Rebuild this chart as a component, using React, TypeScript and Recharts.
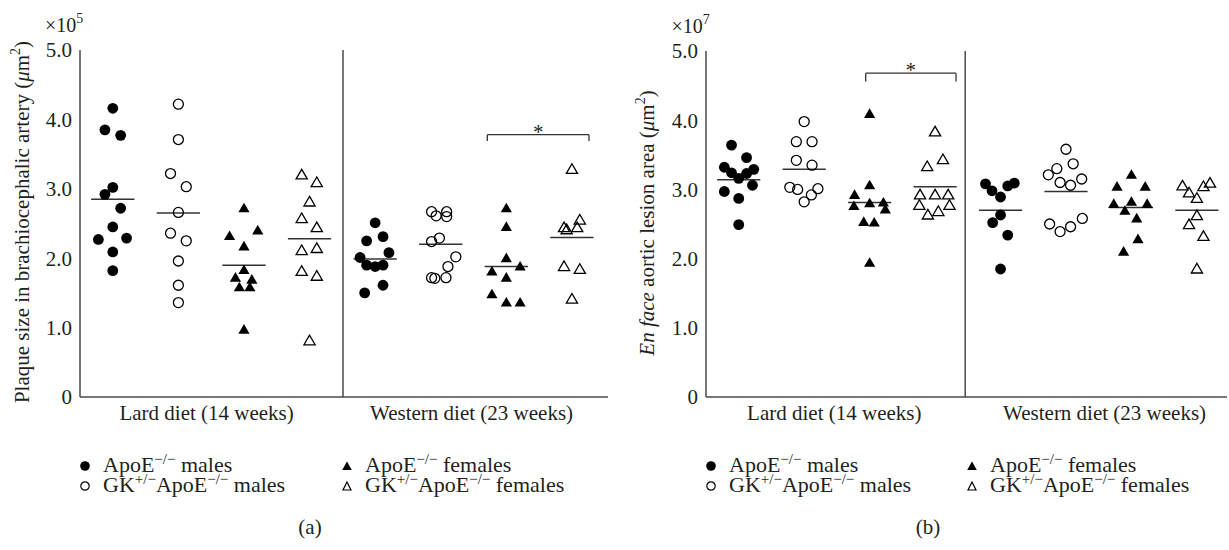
import React from 'react';
import { ScatterChart, Scatter, XAxis, YAxis, ReferenceLine } from 'recharts';

const FONT = '"Liberation Serif", "Times New Roman", serif';
const TEXT = '#231f20';
const AXIS = '#4a4a4a';

const dietLabels = ['Lard diet (14 weeks)', 'Western diet (23 weeks)'];
const yTicks = [0, 1, 2, 3, 4, 5];
const lardSlots = [1, 2, 3, 4];
const westernSlots = [5, 6, 7, 8];

// ---- Panel (a): plaque size in brachiocephalic artery (x10^5 um^2) ----
// each entry: [horizontal jitter, value]
const aApoEMalesLard = [[0, 4.16], [-0.12, 3.85], [0.12, 3.77], [0, 3.02], [-0.12, 2.92], [0.12, 2.72], [0, 2.45], [-0.22, 2.27], [0.21, 2.29], [0, 2.09], [0, 1.82]];
const aGKMalesLard = [[0, 4.22], [0, 3.71], [-0.12, 3.22], [0.12, 3.03], [0, 2.66], [-0.12, 2.36], [0.12, 2.25], [0, 1.96], [0, 1.61], [0, 1.36]];
const aApoEFemalesLard = [[0, 2.72], [-0.22, 2.32], [0.21, 2.4], [0, 2.17], [0, 1.83], [-0.13, 1.72], [0.12, 1.69], [-0.07, 1.58], [0.09, 1.58], [0, 0.97]];
const aGKFemalesLard = [[-0.12, 3.2], [0.11, 3.09], [0, 2.81], [-0.12, 2.57], [0.11, 2.44], [-0.12, 2.11], [0.11, 2.14], [-0.12, 1.81], [0.11, 1.74], [0, 0.81]];
const aApoEMalesWestern = [[0, 2.51], [-0.13, 2.25], [0.12, 2.31], [-0.23, 2.01], [0.21, 2.08], [-0.13, 1.9], [0, 1.88], [0.12, 1.9], [-0.16, 1.5], [0.12, 1.61]];
const aGKMalesWestern = [[-0.14, 2.67], [0.09, 2.67], [-0.07, 2.61], [0.09, 2.6], [-0.14, 2.24], [-0.02, 2.29], [0.23, 2.02], [0.11, 1.88], [-0.14, 1.72], [-0.09, 1.71], [0.08, 1.72]];
const aApoEFemalesWestern = [[0, 2.72], [0, 2.45], [0, 2.0], [-0.22, 1.81], [0.21, 1.88], [0, 1.72], [-0.22, 1.48], [0, 1.36], [0.21, 1.36]];
const aGKFemalesWestern = [[0, 3.28], [0.12, 2.55], [-0.12, 2.44], [-0.08, 2.41], [0.08, 2.44], [-0.12, 1.88], [0.12, 1.84], [0, 1.41]];
const aMeansLard = [2.85, 2.65, 1.9, 2.28];
const aMeansWestern = [1.99, 2.2, 1.88, 2.3];
const aXDomain = [0.5, 8.55];
const aDivider = 4.51;
const aDietLabelX = [2.43, 6.47];
const aBracketX = [6.71, 8.26];
const aBracketY = [3.78, 3.69];

// ---- Panel (b): en face aortic lesion area (x10^7 um^2) ----
const bApoEMalesLard = [[-0.11, 3.64], [0.12, 3.46], [-0.22, 3.32], [-0.11, 3.24], [0, 3.16], [0.12, 3.23], [0.23, 3.29], [0.21, 3.06], [-0.22, 2.97], [0, 2.87], [0, 2.49]];
const bGKMalesLard = [[0, 3.98], [-0.12, 3.69], [0.12, 3.69], [-0.12, 3.42], [0.12, 3.35], [-0.22, 3.03], [-0.1, 3.0], [0.21, 3.01], [0.11, 2.92], [0, 2.82]];
const bApoEFemalesLard = [[0, 4.09], [0, 3.06], [-0.23, 2.92], [-0.24, 2.76], [0, 2.8], [0.21, 2.81], [0.24, 2.71], [-0.09, 2.53], [0.07, 2.52], [0, 1.94]];
const bGKFemalesLard = [[0, 3.83], [0.12, 3.43], [-0.12, 3.33], [-0.23, 2.92], [0, 2.92], [0.2, 2.92], [-0.24, 2.77], [0.22, 2.77], [-0.11, 2.63], [0.05, 2.68]];
const bApoEMalesWestern = [[-0.23, 3.08], [-0.13, 2.98], [0, 2.89], [0.11, 3.05], [0.21, 3.09], [0, 2.63], [-0.12, 2.52], [0.11, 2.34], [0, 1.85]];
const bGKMalesWestern = [[0, 3.58], [0.11, 3.37], [-0.14, 3.3], [-0.27, 3.21], [-0.09, 3.1], [0.07, 3.06], [0.24, 3.15], [-0.25, 2.5], [-0.09, 2.39], [0.07, 2.46], [0.25, 2.58]];
const bApoEFemalesWestern = [[0, 3.21], [-0.22, 3.04], [0.21, 3.04], [-0.27, 2.79], [0, 2.82], [0.24, 2.79], [-0.1, 2.69], [0.08, 2.58], [0.1, 2.28], [-0.12, 2.1]];
const bGKFemalesWestern = [[-0.22, 3.05], [0.2, 3.09], [0.1, 3.04], [-0.12, 2.95], [0, 2.87], [0, 2.62], [-0.12, 2.49], [0.1, 2.32], [0, 1.85]];
const bMeansLard = [3.14, 3.29, 2.81, 3.04];
const bMeansWestern = [2.7, 2.97, 2.74, 2.7];
const bXDomain = [0.5, 8.46];
const bDivider = 4.46;
const bDietLabelX = [2.46, 6.59];
const bBracketX = [2.94, 4.32];
const bBracketY = [4.68, 4.56];

const MEAN_HALF = 0.33;
const markerKinds = ['dot', 'circle', 'tri', 'opentri'];

function buildSeries(lard: number[][][], western: number[][][]) {
  return markerKinds.map((kind, g) => ({
    kind,
    data: [
      ...lard[g].map(([j, v]) => ({ x: lardSlots[g] + j, y: v })),
      ...western[g].map(([j, v]) => ({ x: westernSlots[g] + j, y: v })),
    ],
  }));
}

function MarkerShape(kind: string) {
  return (props: any) => {
    const { cx, cy } = props;
    if (cx == null || cy == null) return <g />;
    if (kind === 'dot') return <circle cx={cx} cy={cy} r={5.4} fill="#000" />;
    if (kind === 'circle') return <circle cx={cx} cy={cy} r={5} fill="none" stroke="#000" strokeWidth={1.3} />;
    const pts = `${cx},${cy - 5.6} ${cx - 5.6},${cy + 4} ${cx + 5.6},${cy + 4}`;
    if (kind === 'tri') return <polygon points={pts} fill="#000" />;
    return <polygon points={pts} fill="none" stroke="#000" strokeWidth={1.3} strokeLinejoin="miter" />;
  };
}

const yFmt = (v: number) => (v === 0 ? '0' : v.toFixed(1));

function Panel(props: any) {
  const {
    width, margin, xDomain, dietX, divider, series, meansLard, meansWestern,
    bracketX, bracketY, yLabel,
  } = props;
  const bracketMid = (bracketX[0] + bracketX[1]) / 2;
  return (
    <ScatterChart width={width} height={550} margin={margin} style={{ fontFamily: FONT }}>
      <XAxis
        type="number"
        dataKey="x"
        domain={xDomain}
        ticks={dietX}
        interval={0}
        allowDataOverflow
        tickFormatter={(_v: number, i: number) => dietLabels[i]}
        tickLine={false}
        axisLine={{ stroke: AXIS, strokeWidth: 1.5 }}
        tick={{ fontSize: 21, fill: TEXT, fontFamily: FONT }}
        height={30}
      />
      <YAxis
        type="number"
        dataKey="y"
        domain={[0, 5]}
        ticks={yTicks}
        interval={0}
        tickFormatter={yFmt}
        tickLine={false}
        axisLine={{ stroke: AXIS, strokeWidth: 1.5 }}
        tick={{ fontSize: 21, fill: TEXT, fontFamily: FONT }}
        width={60}
        label={yLabel}
      />
      <ReferenceLine x={divider} stroke={AXIS} strokeWidth={1.5} />
      {series.map((s: any) => (
        <Scatter key={s.kind} data={s.data} shape={MarkerShape(s.kind)} isAnimationActive={false} />
      ))}
      {meansLard.map((m: number, i: number) => (
        <ReferenceLine key={'ml' + i} segment={[{ x: lardSlots[i] - MEAN_HALF, y: m }, { x: lardSlots[i] + MEAN_HALF, y: m }]} stroke="#333" strokeWidth={1.5} />
      ))}
      {meansWestern.map((m: number, i: number) => (
        <ReferenceLine key={'mw' + i} segment={[{ x: westernSlots[i] - MEAN_HALF, y: m }, { x: westernSlots[i] + MEAN_HALF, y: m }]} stroke="#333" strokeWidth={1.5} />
      ))}
      <ReferenceLine segment={[{ x: bracketX[0], y: bracketY[0] }, { x: bracketX[1], y: bracketY[0] }]} stroke="#333" strokeWidth={1.3} />
      <ReferenceLine segment={[{ x: bracketX[0], y: bracketY[0] }, { x: bracketX[0], y: bracketY[1] }]} stroke="#333" strokeWidth={1.3} />
      <ReferenceLine segment={[{ x: bracketX[1], y: bracketY[0] }, { x: bracketX[1], y: bracketY[1] }]} stroke="#333" strokeWidth={1.3} />
      <ReferenceLine
        segment={[{ x: bracketMid - 0.01, y: bracketY[0] }, { x: bracketMid + 0.01, y: bracketY[0] }]}
        stroke="none"
        label={(p: any) => {
          const vb = p.viewBox || {};
          const x = (vb.x || 0) + (vb.width || 0) / 2;
          return (
            <text x={x} y={(vb.y || 0) + 4} textAnchor="middle" fontSize={21} fill={TEXT} fontFamily={FONT}>*</text>
          );
        }}
      />
    </ScatterChart>
  );
}

function makeYLabel(main: React.ReactNode, baseX: number, centerY: number, exp: string, expX: number, expY: number) {
  return () => (
    <g>
      <text
        x={baseX}
        y={centerY}
        transform={`rotate(-90, ${baseX}, ${centerY})`}
        textAnchor="middle"
        fontSize={21}
        fill={TEXT}
        fontFamily={FONT}
      >
        {main}
        <tspan fontStyle="italic">μ</tspan>
        <tspan>m</tspan>
        <tspan dy={-9} fontSize={14}>2</tspan>
        <tspan dy={9}>)</tspan>
      </text>
      <text x={expX} y={expY} fontSize={20} fill={TEXT} fontFamily={FONT}>
        ×10<tspan dy={-9} fontSize={14}>{exp}</tspan>
      </text>
    </g>
  );
}

function Sup({ children }: { children: React.ReactNode }) {
  return <span style={{ fontSize: 15, position: 'relative', top: -8 }}>{children}</span>;
}

const legendItems = [
  { kind: 'dot', col: 0, row: 0, text: (<>ApoE<Sup>−/−</Sup> males</>) },
  { kind: 'tri', col: 1, row: 0, text: (<>ApoE<Sup>−/−</Sup> females</>) },
  { kind: 'circle', col: 0, row: 1, text: (<>GK<Sup>+/−</Sup>ApoE<Sup>−/−</Sup> males</>) },
  { kind: 'opentri', col: 1, row: 1, text: (<>GK<Sup>+/−</Sup>ApoE<Sup>−/−</Sup> females</>) },
];

function LegendMarker({ kind }: { kind: string }) {
  return (
    <svg width={12} height={12} style={{ display: 'block' }}>
      {kind === 'dot' && <circle cx={6} cy={6} r={4.8} fill="#000" />}
      {kind === 'circle' && <circle cx={6} cy={6} r={4.2} fill="none" stroke="#000" strokeWidth={1.2} />}
      {kind === 'tri' && <polygon points="6,1.5 1.2,10 10.8,10" fill="#000" />}
      {kind === 'opentri' && <polygon points="6,2 2,10 10,10" fill="none" stroke="#000" strokeWidth={1.2} />}
    </svg>
  );
}

function LegendBlock({ colX, rowY, textGap }: { colX: number[]; rowY: number[]; textGap: number }) {
  return (
    <>
      {legendItems.map((it, i) => (
        <div
          key={i}
          style={{
            position: 'absolute',
            left: colX[it.col] - 6,
            top: rowY[it.row] - 10,
            height: 20,
            display: 'flex',
            alignItems: 'center',
            whiteSpace: 'nowrap',
            fontSize: 22,
            lineHeight: '20px',
            color: TEXT,
          }}
        >
          <LegendMarker kind={it.kind} />
          <span style={{ marginLeft: textGap }}>{it.text}</span>
        </div>
      ))}
    </>
  );
}

export default function App() {
  const aSeries = buildSeries(
    [aApoEMalesLard, aGKMalesLard, aApoEFemalesLard, aGKFemalesLard],
    [aApoEMalesWestern, aGKMalesWestern, aApoEFemalesWestern, aGKFemalesWestern],
  );
  const bSeries = buildSeries(
    [bApoEMalesLard, bGKMalesLard, bApoEFemalesLard, bGKFemalesLard],
    [bApoEMalesWestern, bGKMalesWestern, bApoEFemalesWestern, bGKFemalesWestern],
  );
  const aLabel = makeYLabel('Plaque size in brachiocephalic artery (', 28.5, 222, '5', 45, 32);
  const bLabel = makeYLabel(
    <>
      <tspan fontStyle="italic">En face</tspan> aortic lesion area (
    </>,
    38.5, 223, '7', 56.5, 33,
  );
  return (
    <div style={{ position: 'absolute', left: 0, top: 0, width: 1229, height: 550, background: '#fff', fontFamily: FONT, color: TEXT }}>
      <div style={{ position: 'absolute', left: 0, top: 0 }}>
        <Panel
          width={615}
          margin={{ top: 50, right: 7, bottom: 123, left: 20 }}
          xDomain={aXDomain}
          dietX={aDietLabelX}
          divider={aDivider}
          series={aSeries}
          meansLard={aMeansLard}
          meansWestern={aMeansWestern}
          bracketX={aBracketX}
          bracketY={aBracketY}
          yLabel={aLabel}
        />
      </div>
      <div style={{ position: 'absolute', left: 615, top: 0 }}>
        <Panel
          width={614}
          margin={{ top: 51, right: 2, bottom: 123, left: 31 }}
          xDomain={bXDomain}
          dietX={bDietLabelX}
          divider={bDivider}
          series={bSeries}
          meansLard={bMeansLard}
          meansWestern={bMeansWestern}
          bracketX={bBracketX}
          bracketY={bBracketY}
          yLabel={bLabel}
        />
      </div>
      <LegendBlock colX={[85, 347]} rowY={[466, 486]} textGap={12} />
      <LegendBlock colX={[711, 972]} rowY={[466, 486]} textGap={12} />
      <div style={{ position: 'absolute', left: 290, top: 514, width: 40, textAlign: 'center', fontSize: 21, lineHeight: '26px' }}>(a)</div>
      <div style={{ position: 'absolute', left: 908, top: 514, width: 40, textAlign: 'center', fontSize: 21, lineHeight: '26px' }}>(b)</div>
    </div>
  );
}
